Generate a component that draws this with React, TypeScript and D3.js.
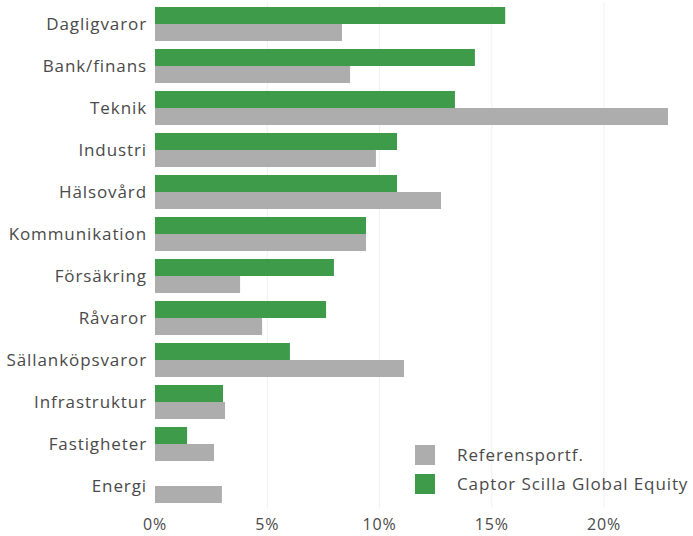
import * as d3 from "d3";
import { useRef, useEffect } from "react";

const categories = [
  "Dagligvaror",
  "Bank/finans",
  "Teknik",
  "Industri",
  "Hälsovård",
  "Kommunikation",
  "Försäkring",
  "Råvaror",
  "Sällanköpsvaror",
  "Infrastruktur",
  "Fastigheter",
  "Energi",
];
const fundValues = [15.6, 14.25, 13.36, 10.78, 10.78, 9.4, 7.97, 7.62, 6.01, 3.03, 1.43, 0];
const refValues = [8.33, 8.69, 22.85, 9.84, 12.74, 9.4, 3.79, 4.77, 11.09, 3.12, 2.63, 2.98];
const xTicks = [0, 5, 10, 15, 20];
const seriesNames = ["Referensportf.", "Captor Scilla Global Equity"];

const GREEN = "#3e9b4a";
const GREY = "#adadad";
const TEXT = "#4a4a4a";
const FONT = "'Open Sans', sans-serif";
const LS = "0.9px";

const App = () => {
  const container = useRef<SVGSVGElement>(null);

  useEffect(() => {
    const width = 693;
    const height = 536;
    const svg = d3.select(container.current);
    svg.selectAll("*").remove();

    const margins = { l: 155, t: 3 };
    const xScale = d3.scaleLinear().domain([0, 20]).range([margins.l, 604]);
    const yScale = d3
      .scaleBand()
      .domain(categories)
      .range([3, 507])
      .paddingInner(0.19)
      .paddingOuter(0.095);
    const bw = yScale.bandwidth() / 2;

    // gridlines
    svg
      .append("g")
      .selectAll("line")
      .data(xTicks.filter((d) => d > 0))
      .join("line")
      .attr("x1", (d) => xScale(d))
      .attr("x2", (d) => xScale(d))
      .attr("y1", 3)
      .attr("y2", 508)
      .attr("stroke", "#f0f0f0")
      .attr("stroke-width", 1);

    // bars
    const barg = svg.append("g");
    barg
      .selectAll(".fund-bar")
      .data(fundValues)
      .join("rect")
      .attr("class", "fund-bar")
      .attr("x", xScale(0))
      .attr("y", (d, i) => yScale(categories[i])!)
      .attr("width", (d) => xScale(d) - xScale(0))
      .attr("height", bw)
      .attr("fill", GREEN);
    barg
      .selectAll(".ref-bar")
      .data(refValues)
      .join("rect")
      .attr("class", "ref-bar")
      .attr("x", xScale(0))
      .attr("y", (d, i) => yScale(categories[i])! + bw)
      .attr("width", (d) => xScale(d) - xScale(0))
      .attr("height", bw)
      .attr("fill", GREY);

    // category labels
    svg
      .append("g")
      .selectAll("text")
      .data(categories)
      .join("text")
      .attr("x", 147)
      .attr("y", (d) => yScale(d)! + bw)
      .attr("dy", "0.36em")
      .attr("text-anchor", "end")
      .attr("fill", TEXT)
      .style("font-family", FONT)
      .style("font-size", "17px")
      .style("letter-spacing", LS)
      .text((d) => d);

    // x tick labels
    svg
      .append("g")
      .selectAll("text")
      .data(xTicks)
      .join("text")
      .attr("x", (d) => xScale(d))
      .attr("y", 530)
      .attr("text-anchor", "middle")
      .attr("fill", TEXT)
      .style("font-family", FONT)
      .style("font-size", "16px")
      .style("letter-spacing", LS)
      .text((d) => d + "%");

    // legend
    const legendg = svg.append("g").attr("transform", "translate(415,445)");
    const colors = [GREY, GREEN];
    legendg
      .selectAll("rect")
      .data(seriesNames)
      .join("rect")
      .attr("x", 0)
      .attr("y", (d, i) => i * 29)
      .attr("width", 20)
      .attr("height", 20)
      .attr("fill", (d, i) => colors[i]);
    legendg
      .selectAll("text")
      .data(seriesNames)
      .join("text")
      .attr("x", 42)
      .attr("y", (d, i) => i * 29 + 10)
      .attr("dy", "0.36em")
      .attr("fill", TEXT)
      .style("font-family", FONT)
      .style("font-size", "17px")
      .style("letter-spacing", LS)
      .text((d) => d);

    svg.attr("width", width).attr("height", height);
  }, []);

  return (
    <svg
      ref={container}
      width={693}
      height={536}
      style={{ position: "absolute", left: 0, top: 0 }}
    />
  );
};

export default App;
